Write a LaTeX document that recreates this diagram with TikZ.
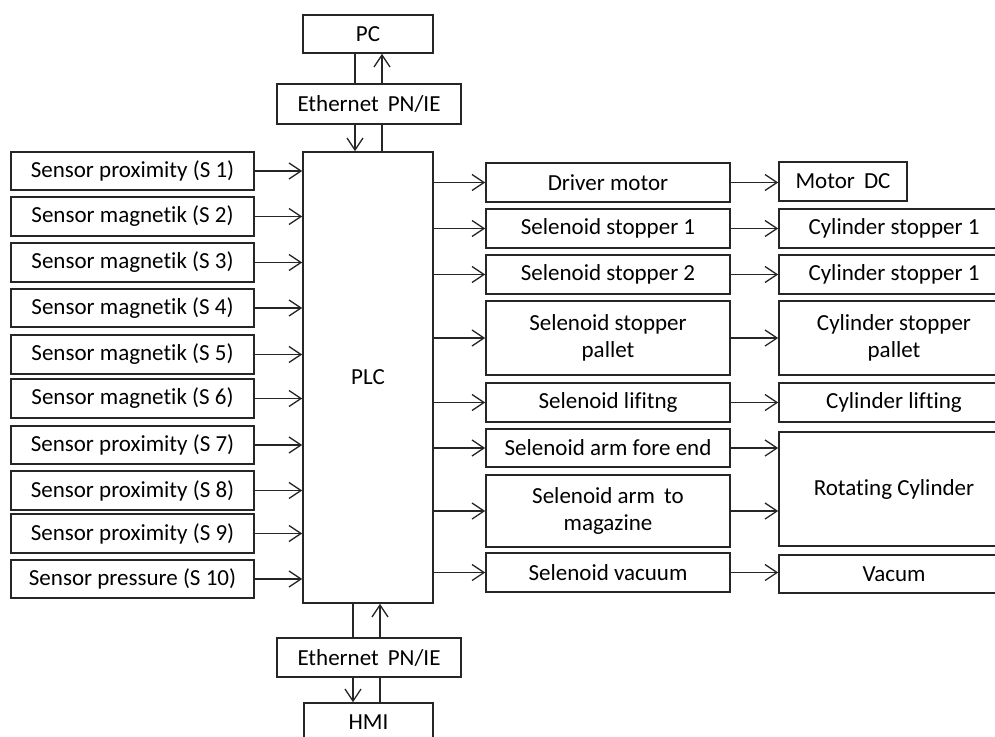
\documentclass[tikz,border=0pt]{standalone}
\usepackage{fontspec}
\setmainfont{Carlito}[Ligatures=NoCommon]
\usetikzlibrary{arrows.meta}

\begin{document}
\begin{tikzpicture}[x=1pt,y=-1pt,
    box/.style={draw=black!85, line width=1.6pt, inner sep=2pt, align=center,
      text=black, font=\fontsize{23}{27}\selectfont},
    sensor/.style={box, minimum width=243, minimum height=38.5},
    valve/.style={box, minimum width=244, minimum height=38.5},
    actor/.style={box, minimum width=230, minimum height=38.5},
    link/.style={draw=black!85, line width=1.3pt},
    arr/.style={link, -{Straight Barb[length=12pt,width=16pt]}}]
  \useasboundingbox (0,0) rectangle (995,736);
  \clip (0,0) rectangle (995,736);

  %% PLC and network
  \node[box, minimum width=130, minimum height=451] (plc) at (368,377.5) {PLC};
  \node[box, minimum width=130, minimum height=38] (pc) at (368,34) {PC};
  \node[box, minimum width=184, minimum height=40] (eth1) at (369,104) {Ethernet\, PN/IE};
  \node[box, minimum width=184, minimum height=39] (eth2) at (369,657.5) {Ethernet\, PN/IE};
  \node[box, minimum width=129, minimum height=38] (hmi) at (368.5,722) {HMI};

  \draw[link] ([xshift=-13]pc.south) -- ([xshift=-14]eth1.north);
  \draw[arr] ([xshift=13]eth1.north) -- ([xshift=14]pc.south);
  \draw[arr] ([xshift=-14]eth1.south) -- ([xshift=-13]plc.north);
  \draw[link] ([xshift=14]plc.north) -- ([xshift=13]eth1.south);

  \draw[link] ([xshift=-15]plc.south) -- ([xshift=-16]eth2.north);
  \draw[arr] ([xshift=11]eth2.north) -- ([xshift=12]plc.south);
  \draw[arr] ([xshift=-16]eth2.south) -- ([xshift=-15.5]hmi.north);
  \draw[link] ([xshift=11.5]hmi.north) -- ([xshift=11]eth2.south);

  %% sensors
  \foreach \i/\kind/\yy in {1/proximity/171, 2/magnetik/216.5, 3/magnetik/262.5,
      4/magnetik/308, 5/magnetik/354.5, 6/magnetik/398.5, 7/proximity/445,
      8/proximity/490.5, 9/proximity/533.5, 10/pressure/579} {
    \node[sensor] (s\i) at (132.5,\yy) {Sensor \kind{} (S \i)};
    \draw[arr] (s\i.east) -- (s\i.east -| plc.west);
  }

  %% selenoids
  \node[valve] (drv) at (608,182.5) {Driver motor};
  \node[valve] (ss1) at (608,228.5) {Selenoid stopper 1};
  \node[valve] (ss2) at (608,274.5) {Selenoid stopper 2};
  \node[valve, minimum height=74] (ssp) at (608,338) {Selenoid stopper\\pallet};
  \node[valve] (slf) at (608,402.5) {Selenoid lifitng};
  \node[valve] (saf) at (608,448) {Selenoid arm fore end};
  \node[valve, minimum height=72] (sam) at (608,511) {Selenoid arm\, to\\magazine};
  \node[valve] (svc) at (608,572.5) {Selenoid vacuum};

  \foreach \n in {drv,ss1,ss2,ssp,slf,saf,sam,svc}
    \draw[arr] (plc.east |- \n.west) -- (\n.west);

  %% actuators
  \node[box, minimum width=128, minimum height=39] (mdc) at (843,181.5) {Motor\, DC};
  \node[actor] (cs1) at (894,228.5) {Cylinder stopper 1};
  \node[actor] (cs2) at (894,274.5) {Cylinder stopper 1};
  \node[actor, minimum height=74] (csp) at (894,338) {Cylinder stopper\\pallet};
  \node[actor] (clf) at (894,402.5) {Cylinder lifting};
  \node[actor, minimum height=114] (rot) at (894,489) {Rotating Cylinder};
  \node[actor] (vac) at (894,574) {Vacum};

  \draw[arr] (drv.east) -- (drv.east -| mdc.west);
  \draw[arr] (ss1.east) -- (ss1.east -| cs1.west);
  \draw[arr] (ss2.east) -- (ss2.east -| cs2.west);
  \draw[arr] (ssp.east) -- (ssp.east -| csp.west);
  \draw[arr] (slf.east) -- (slf.east -| clf.west);
  \draw[arr] (saf.east) -- (saf.east -| rot.west);
  \draw[arr] (sam.east) -- (sam.east -| rot.west);
  \draw[arr] (svc.east) -- (svc.east -| vac.west);
\end{tikzpicture}
\end{document}
